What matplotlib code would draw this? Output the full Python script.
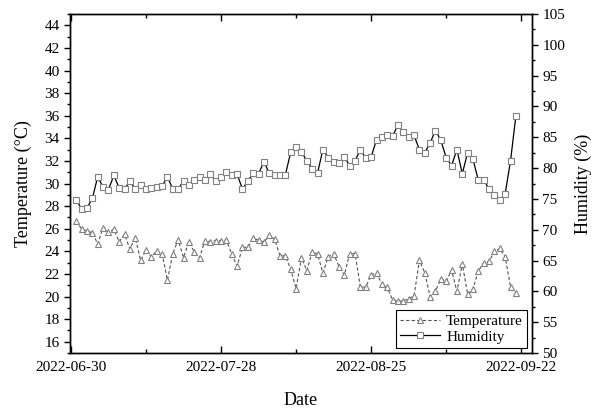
import pandas as pd
import numpy as np
import matplotlib
import matplotlib.pyplot as plt
import matplotlib.dates as mdates
from matplotlib.ticker import MultipleLocator

matplotlib.use('Agg')

plt.rcParams['font.family'] = ['Liberation Serif', 'DejaVu Serif']
plt.rcParams['mathtext.fontset'] = 'stix'

# Tageswerte 2022-07-01 bis 2022-09-21
dates = pd.date_range("2022-07-01", "2022-09-21", freq="D")

temperature = [
    26.7, 25.95, 25.8, 25.65, 24.65, 26.1, 25.7, 25.95, 24.85, 25.5,
    24.2, 25.2, 23.2, 24.1, 23.5, 24.05, 23.8, 21.45, 23.8, 25.0,
    23.45, 24.85, 23.95, 23.45, 24.95, 24.85, 24.95, 24.95, 25.0, 23.75,
    22.7, 24.35, 24.35, 25.15, 25.0, 24.8, 25.4, 25.05, 23.6, 23.6,
    22.4, 20.7, 23.45, 22.3, 23.95, 23.75, 22.1, 23.5, 23.8, 22.65,
    21.9, 23.8, 23.8, 20.8, 20.85, 21.9, 22.1, 21.1, 20.8, 19.7,
    19.6, 19.6, 19.8, 20.05, 23.2, 22.1, 20.0, 20.5, 21.55, 21.35,
    22.35, 20.45, 22.9, 20.2, 20.7, 22.25, 23.0, 23.1, 24.0, 24.25,
    23.5, 20.85, 20.35,
]

humidity = [
    74.9, 73.3, 73.5, 75.1, 78.6, 76.9, 76.5, 78.8, 76.8, 76.6,
    77.9, 76.6, 77.3, 76.6, 76.8, 76.9, 77.1, 78.6, 76.6, 76.6,
    77.9, 77.3, 78.1, 78.6, 78.1, 79.0, 77.9, 78.5, 79.4, 78.8,
    79.0, 76.6, 77.9, 79.2, 79.1, 81.0, 79.2, 78.9, 78.9, 78.9,
    82.6, 83.5, 82.6, 81.2, 79.9, 79.2, 83.0, 81.7, 81.0, 80.8,
    81.8, 80.4, 81.2, 83.0, 81.6, 81.8, 84.6, 85.0, 85.3, 85.2,
    87.0, 85.8, 85.0, 85.3, 83.0, 82.5, 84.1, 86.1, 84.5, 81.7,
    80.4, 83.0, 79.1, 82.5, 81.4, 78.0, 78.1, 76.6, 75.7, 74.75,
    75.85, 81.2, 88.5,
]

xtick_dates = pd.to_datetime(["2022-06-30", "2022-07-28", "2022-08-25", "2022-09-22"])

fig = plt.figure(figsize=(5.97, 4.11), dpi=100)
ax1 = fig.add_axes([0.1173, 0.1411, 0.7738, 0.8248])
ax2 = ax1.twinx()

# Temperatur (gestrichelt, Dreiecke)
l1, = ax1.plot(dates, temperature, linestyle=(0, (3, 2)), color="#555555", linewidth=0.8,
               marker="^", markersize=5, markerfacecolor="white",
               markeredgecolor="#808080", markeredgewidth=0.8, label="Temperature")
# Luftfeuchte (durchgezogen, Quadrate)
l2, = ax2.plot(dates, humidity, linestyle="-", color="black", linewidth=0.9,
               marker="s", markersize=4.3, markerfacecolor="white",
               markeredgecolor="#808080", markeredgewidth=0.8, label="Humidity")

ax1.set_ylim(15, 45)
ax2.set_ylim(50, 105)
ax1.set_xlim(pd.Timestamp("2022-06-29 20:00"), pd.Timestamp("2022-09-24"))

ax1.set_yticks(np.arange(16, 45, 2))
ax1.yaxis.set_minor_locator(MultipleLocator(1))
ax2.yaxis.set_major_locator(MultipleLocator(5))
ax2.yaxis.set_minor_locator(MultipleLocator(2.5))

ax1.set_xticks(xtick_dates)
ax1.xaxis.set_major_formatter(mdates.DateFormatter("%Y-%m-%d"))
ax1.set_xticks(pd.date_range("2022-06-30", "2022-09-22", freq="14D"), minor=True)

ax1.tick_params(axis="x", which="both", direction="in", top=True, labelsize=11, pad=6)
ax1.tick_params(axis="x", which="major", length=5, width=1)
ax1.tick_params(axis="x", which="minor", length=3, width=1)
ax1.tick_params(axis="y", which="major", direction="out", length=4, width=1, labelsize=11)
ax1.tick_params(axis="y", which="minor", direction="out", length=2.5, width=1)
ax2.tick_params(axis="y", which="major", direction="out", length=4, width=1, labelsize=11)
ax2.tick_params(axis="y", which="minor", direction="out", length=2.5, width=1)

for ax in (ax1, ax2):
    for s in ax.spines.values():
        s.set_linewidth(1.0)

ax1.set_xlabel("Date", fontsize=13, labelpad=13)
ax1.set_ylabel("Temperature (\u00b0C)", fontsize=13, labelpad=9)
ax2.set_ylabel("Humidity (%)", fontsize=13, labelpad=7)

leg = ax2.legend(handles=[l1, l2], loc="lower right", fontsize=11, frameon=True,
                 fancybox=False, edgecolor="black", framealpha=1,
                 handlelength=2.6, borderpad=0.3, labelspacing=0.15,
                 handletextpad=0.4, borderaxespad=0.3)
leg.get_frame().set_linewidth(0.8)

plt.savefig("out.png", dpi=100)
